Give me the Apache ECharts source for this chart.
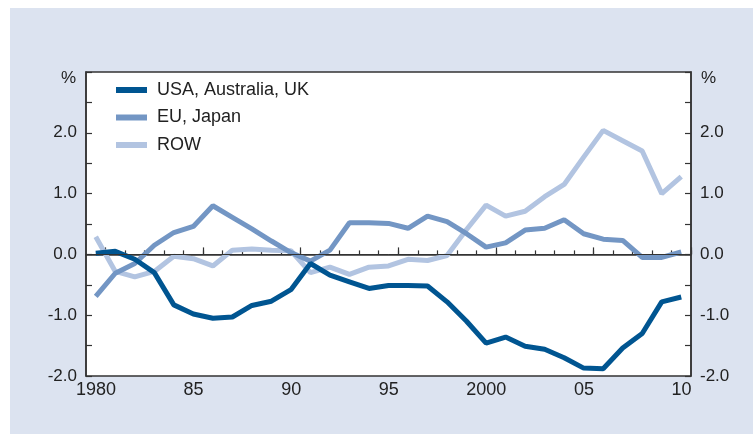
<!DOCTYPE html>
<html>
<head>
<meta charset="utf-8">
<script src="https://cdn.jsdelivr.net/npm/echarts@6/dist/echarts.min.js"></script>
<style>
  html, body { margin: 0; padding: 0; background: #fff; }
  #chart { width: 753px; height: 434px; }
</style>
</head>
<body>
<div id="chart"></div>
<script>
// data years 1979..2009, each point plotted at mid-year
var years = [1979, 1980, 1981, 1982, 1983, 1984, 1985, 1986, 1987, 1988, 1989,
             1990, 1991, 1992, 1993, 1994, 1995, 1996, 1997, 1998, 1999,
             2000, 2001, 2002, 2003, 2004, 2005, 2006, 2007, 2008, 2009];

var usaAusUk = [0.02, 0.05, -0.08, -0.30, -0.83, -0.98, -1.05, -1.03, -0.84, -0.77, -0.58,
                -0.15, -0.34, -0.45, -0.56, -0.51, -0.51, -0.52, -0.78, -1.10, -1.46,
                -1.36, -1.51, -1.56, -1.70, -1.87, -1.88, -1.54, -1.30, -0.78, -0.70];

var euJapan = [-0.69, -0.31, -0.15, 0.15, 0.36, 0.46, 0.80, 0.61, 0.42, 0.22, 0.03,
               -0.11, 0.07, 0.52, 0.52, 0.51, 0.43, 0.63, 0.54, 0.34, 0.12,
               0.19, 0.40, 0.43, 0.57, 0.34, 0.25, 0.23, -0.05, -0.05, 0.04];

var row = [0.29, -0.28, -0.37, -0.28, -0.03, -0.07, -0.19, 0.07, 0.09, 0.07, 0.06,
           -0.30, -0.21, -0.33, -0.21, -0.19, -0.08, -0.10, -0.02, 0.41, 0.81,
           0.63, 0.71, 0.95, 1.15, 1.60, 2.04, 1.87, 1.70, 1.00, 1.28];

var xTickYears = [1980, 1985, 1990, 1995, 2000, 2005, 2010];
var xTickLabels = ['1980', '85', '90', '95', '2000', '05', '10'];
var minorYears = [];
for (var yr = 1980; yr <= 2010; yr++) minorYears.push(yr);

function pairs(vals) {
    return years.map(function (y, i) { return [y + 0.5, vals[i]]; });
}

var font = "'Liberation Sans', Arial, sans-serif";
var ink = '#333';

var yAxisBase = {
    type: 'value',
    min: -2,
    max: 3,
    interval: 0.5,
    axisLine: { show: true, lineStyle: { color: ink, width: 1.5 } },
    axisTick: { show: true, inside: true, length: 6, lineStyle: { color: ink, width: 1.2 } },
    axisLabel: {
        color: '#222',
        fontSize: 17,
        fontFamily: font,
        margin: 9,
        formatter: function (v) {
            return (Math.abs(v % 1) < 1e-9 && v < 3) ? v.toFixed(1) : '';
        }
    },
    splitLine: { show: false }
};

var chart = echarts.init(document.getElementById('chart'));
chart.setOption({
    animation: false,
    backgroundColor: '#fff',
    graphic: [
        { type: 'rect', z: -10, shape: { x: 10, y: 8, width: 743, height: 426 }, style: { fill: '#dce3f0' } },
        { type: 'text', z: 10, left: 61, top: 70, style: { text: '%', fontSize: 17, fontFamily: font, fill: '#222' } },
        { type: 'text', z: 10, left: 701, top: 70, style: { text: '%', fontSize: 17, fontFamily: font, fill: '#222' } }
    ],
    grid: {
        left: 86, right: 62, top: 72, bottom: 58,
        show: true,
        backgroundColor: '#fff',
        borderColor: ink,
        borderWidth: 1.5
    },
    legend: {
        orient: 'vertical',
        left: 116,
        top: 81,
        padding: 0,
        itemGap: 9.5,
        itemWidth: 31,
        itemHeight: 6,
        icon: 'rect',
        textStyle: { fontSize: 18, fontFamily: font, color: '#222', padding: [0, 0, 0, 5] },
        data: ['USA, Australia, UK', 'EU, Japan', 'ROW']
    },
    xAxis: [
        {
            type: 'value',
            min: 1979,
            max: 2010,
            axisLine: { show: true, lineStyle: { color: ink, width: 1.5 } },
            axisTick: { show: true, inside: true, length: 7, customValues: xTickYears, lineStyle: { color: ink, width: 1.2 } },
            axisLabel: {
                customValues: xTickYears,
                color: '#222',
                fontSize: 18,
                fontFamily: font,
                margin: 5,
                padding: [0, 19, 0, 0],
                formatter: function (v) {
                    var i = xTickYears.indexOf(Math.round(v));
                    return i >= 0 ? xTickLabels[i] : '';
                }
            },
            splitLine: { show: false }
        },
        {
            type: 'value',
            min: 1979,
            max: 2010,
            position: 'bottom',
            axisLine: { show: false },
            axisTick: { show: true, inside: true, length: 4, customValues: minorYears, lineStyle: { color: ink, width: 1.2 } },
            axisLabel: { show: false },
            splitLine: { show: false }
        }
    ],
    yAxis: [
        echarts.util.merge({ position: 'left' }, yAxisBase, true),
        echarts.util.merge({ position: 'right' }, yAxisBase, true)
    ],
    series: [
        {
            name: 'ROW',
            type: 'line',
            data: pairs(row),
            symbol: 'none',
            color: '#b2c4e1',
            lineStyle: { width: 5, color: '#b2c4e1' },
            markLine: {
                silent: true,
                symbol: 'none',
                label: { show: false },
                lineStyle: { color: ink, width: 1, type: 'solid' },
                data: [{ yAxis: 0 }]
            },
            z: 2
        },
        {
            name: 'EU, Japan',
            type: 'line',
            data: pairs(euJapan),
            symbol: 'none',
            color: '#7396c4',
            lineStyle: { width: 5, color: '#7396c4' },
            z: 3
        },
        {
            name: 'USA, Australia, UK',
            type: 'line',
            data: pairs(usaAusUk),
            symbol: 'none',
            color: '#005591',
            lineStyle: { width: 5, color: '#005591' },
            z: 4
        }
    ]
});
</script>
</body>
</html>
